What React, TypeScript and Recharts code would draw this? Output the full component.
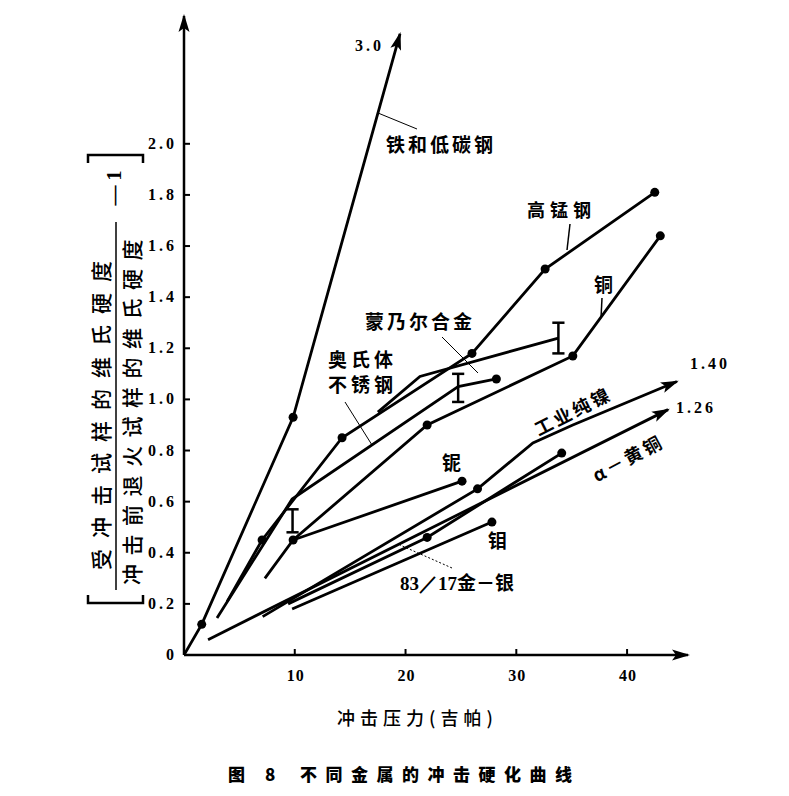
import React from 'react'
import { LineChart, Line, XAxis, YAxis, ReferenceLine, ReferenceDot } from 'recharts'

type Pt = { x: number; y: number }

// 冲击压力(吉帕) -> 硬化比
const TIE_DI_TAN_GANG: Pt[] = [{ x: 0, y: 0 }, { x: 1.6, y: 0.12 }, { x: 9.85, y: 0.93 }, { x: 19.5, y: 2.43 }]
const GAO_MENG_GANG: Pt[] = [{ x: 3.9, y: 0.21 }, { x: 7.05, y: 0.45 }, { x: 14.27, y: 0.85 }, { x: 26, y: 1.18 }, { x: 32.6, y: 1.51 }, { x: 42.5, y: 1.81 }]
const TONG: Pt[] = [{ x: 7.3, y: 0.3 }, { x: 9.85, y: 0.45 }, { x: 21.95, y: 0.9 }, { x: 35.1, y: 1.17 }, { x: 43, y: 1.64 }]
const MENG_NAI_ER: Pt[] = [{ x: 17.5, y: 0.95 }, { x: 21.3, y: 1.09 }, { x: 33.8, y: 1.24 }]
const AO_SHI_TI: Pt[] = [{ x: 2.98, y: 0.145 }, { x: 9.76, y: 0.61 }, { x: 24.75, y: 1.05 }, { x: 28.2, y: 1.08 }]
const NI_NIOBIUM: Pt[] = [{ x: 9.85, y: 0.45 }, { x: 25.1, y: 0.68 }]
const GONG_YE_NIE: Pt[] = [{ x: 7.1, y: 0.15 }, { x: 26.5, y: 0.65 }, { x: 31.5, y: 0.83 }, { x: 35.1, y: 0.9 }, { x: 44.5, y: 1.07 }]
const HUANG_TONG: Pt[] = [{ x: 2.17, y: 0.06 }, { x: 43.7, y: 0.96 }]
const JIN_YIN: Pt[] = [{ x: 9.4, y: 0.2 }, { x: 21.95, y: 0.46 }, { x: 34.1, y: 0.79 }]
const MU: Pt[] = [{ x: 9.76, y: 0.18 }, { x: 27.8, y: 0.52 }]

// 误差范围 [x, 下, 上]
const ERROR_BARS: [number, number, number][] = [[33.8, 1.18, 1.3], [24.75, 0.99, 1.1], [9.8, 0.48, 0.57]]

const X_TICKS = [10, 20, 30, 40]
const Y_TICKS = [0, 0.2, 0.4, 0.6, 0.8, 1.0, 1.2, 1.4, 1.6, 1.8, 2.0]

const SERIES = [
  { key: 'fe', data: TIE_DI_TAN_GANG, dots: [1, 2], arrow: true },
  { key: 'mn', data: GAO_MENG_GANG, dots: [1, 2, 3, 4, 5], arrow: false },
  { key: 'cu', data: TONG, dots: [1, 2, 3, 4], arrow: false },
  { key: 'monel', data: MENG_NAI_ER, dots: [], arrow: false },
  { key: 'ss', data: AO_SHI_TI, dots: [3], arrow: false },
  { key: 'nb', data: NI_NIOBIUM, dots: [1], arrow: false },
  { key: 'ni', data: GONG_YE_NIE, dots: [1], arrow: true },
  { key: 'brass', data: HUANG_TONG, dots: [], arrow: true },
  { key: 'auag', data: JIN_YIN, dots: [1, 2], arrow: false },
  { key: 'mo', data: MU, dots: [1], arrow: false },
]

const CJK = "'Noto Sans CJK SC', sans-serif"
const SERIF = "'Liberation Serif', serif"

function arrowHead(cx: number, cy: number, angle: number, key: string) {
  return (
    <polygon
      key={key}
      points="2,0 -16,-5.5 -12,0 -16,5.5"
      transform={`translate(${cx},${cy}) rotate(${angle})`}
      fill="#000"
    />
  )
}

function makeDot(dots: number[], arrow: boolean, n: number, k: string) {
  return (props: any) => {
    const { cx, cy, index, points } = props
    const key = `${k}-${index}`
    if (cx == null || cy == null) return <g key={key} />
    if (arrow && index === n - 1) {
      let angle = -60
      if (points && points[index - 1]) {
        const p = points[index - 1]
        angle = (Math.atan2(cy - p.y, cx - p.x) * 180) / Math.PI
      }
      return arrowHead(cx, cy, angle, key)
    }
    if (dots.includes(index)) return <circle key={key} cx={cx} cy={cy} r={4.5} fill="#000" />
    return <g key={key} />
  }
}

const YTick = ({ x, y, payload }: any) => (
  <g>
    <line x1={x} x2={x + 6} y1={y} y2={y} stroke="#000" strokeWidth={2} />
    <text x={x - 7} y={y + 5} textAnchor="end" fontFamily={SERIF} fontWeight={700} fontSize={16} letterSpacing={3} fill="#000">
      {payload.value === 0 ? '0' : payload.value.toFixed(1)}
    </text>
  </g>
)

const XTick = ({ x, y, payload }: any) => (
  <g>
    <line x1={x} x2={x} y1={y} y2={y - 6} stroke="#000" strokeWidth={2} />
    <text x={x + 1} y={y + 26} textAnchor="middle" fontFamily={SERIF} fontWeight={700} fontSize={16} letterSpacing={1} fill="#000">
      {payload.value}
    </text>
  </g>
)

const lbl = { fontFamily: CJK, fontWeight: 700, fill: '#000' } as const

export default function App() {
  return (
    <div style={{ position: 'absolute', left: 0, top: 0, width: 789, height: 796, background: '#fff' }}>
      <LineChart width={789} height={796} margin={{ top: 16, right: 101, bottom: 0, left: 0 }}>
        <XAxis
          type="number"
          dataKey="x"
          domain={[0, 45.5]}
          ticks={X_TICKS}
          height={141}
          tickSize={0}
          tickMargin={0}
          tick={<XTick />}
          axisLine={{ stroke: '#000', strokeWidth: 2.5 }}
          allowDataOverflow
        />
        <YAxis
          type="number"
          dataKey="y"
          domain={[0, 2.5]}
          ticks={Y_TICKS}
          width={184}
          tickSize={0}
          tickMargin={0}
          tick={<YTick />}
          axisLine={{ stroke: '#000', strokeWidth: 2.5 }}
          allowDataOverflow
        />
        {SERIES.map((s) => (
          <Line
            key={s.key}
            data={s.data}
            dataKey="y"
            type="linear"
            stroke="#000"
            strokeWidth={2.8}
            dot={makeDot(s.dots, s.arrow, s.data.length, s.key)}
            activeDot={false}
            isAnimationActive={false}
          />
        ))}
        {ERROR_BARS.map(([x, lo, hi]) => (
          <ReferenceLine key={`eb-${x}`} segment={[{ x, y: lo }, { x, y: hi }]} stroke="#000" strokeWidth={2.5} />
        ))}
        {ERROR_BARS.flatMap(([x, lo, hi]) =>
          [lo, hi].map((v) => (
            <ReferenceLine key={`cap-${x}-${v}`} segment={[{ x: x - 0.55, y: v }, { x: x + 0.55, y: v }]} stroke="#000" strokeWidth={2.5} />
          ))
        )}
        <ReferenceDot x={0} y={2.5} r={0} shape={(p: any) => arrowHead(p.cx, p.cy, -90, 'ya')} />
        <ReferenceDot x={45.5} y={0} r={0} shape={(p: any) => arrowHead(p.cx, p.cy, 0, 'xa')} />
      </LineChart>

      <svg width={789} height={796} style={{ position: 'absolute', left: 0, top: 0, pointerEvents: 'none' }}>
        {/* 纵轴标题 */}
        <g transform="translate(115,380) rotate(-90)" {...lbl}>
          <text x={-30} y={-6} textAnchor="middle" fontSize={21} letterSpacing={11} fontWeight={500}>受冲击试样的维氏硬度</text>
          <line x1={-210} x2={158} y1={1} y2={1} stroke="#000" strokeWidth={1.5} />
          <text x={-28} y={25} textAnchor="middle" fontSize={21} letterSpacing={8.5} fontWeight={500}>冲击前退火试样的维氏硬度</text>
          <text x={192} y={6} textAnchor="middle" fontSize={20} fontFamily={SERIF}>— 1</text>
          <path d="M-215,-27 L-223,-27 L-223,28 L-215,28" fill="none" stroke="#000" strokeWidth={2.5} />
          <path d="M217,-27 L225,-27 L225,28 L217,28" fill="none" stroke="#000" strokeWidth={2.5} />
        </g>

        <text x={355} y={51} fontFamily={SERIF} fontWeight={700} fontSize={16} letterSpacing={3}>3.0</text>
        <text x={386} y={152} fontSize={19} letterSpacing={3} {...lbl}>铁和低碳钢</text>
        <line x1={378} y1={113} x2={417} y2={129} stroke="#000" strokeWidth={1} />

        <text x={527} y={217} fontSize={18} letterSpacing={5} {...lbl}>高锰钢</text>
        <line x1={570} y1={224} x2={567} y2={250} stroke="#000" strokeWidth={1.5} />

        <text x={594} y={292} fontSize={19} {...lbl}>铜</text>
        <line x1={602} y1={298} x2={601} y2={318} stroke="#000" strokeWidth={1.5} />

        <text x={365} y={329} fontSize={19} letterSpacing={3} {...lbl}>蒙乃尔合金</text>
        <line x1={442} y1={337} x2={478} y2={373} stroke="#000" strokeWidth={1} />

        <text x={328} y={367} fontSize={19} letterSpacing={4} {...lbl}>奥氏体</text>
        <text x={328} y={392} fontSize={19} letterSpacing={4} {...lbl}>不锈钢</text>
        <line x1={345} y1={402} x2={372} y2={445} stroke="#000" strokeWidth={1} />

        <text x={442} y={470} fontSize={19} {...lbl}>铌</text>
        <text x={488} y={548} fontSize={19} {...lbl}>钼</text>

        <text x={400} y={590} fontSize={19} fill="#000">
          <tspan fontFamily={SERIF} fontWeight={700}>83／17</tspan>
          <tspan fontFamily={CJK} fontWeight={700}>金－银</tspan>
        </text>
        <line x1={452} y1={568} x2={400} y2={545} stroke="#000" strokeWidth={1} strokeDasharray="2 2" />

        <text x={573} y={418} textAnchor="middle" fontSize={18} letterSpacing={3} transform="rotate(-27 573 411)" {...lbl}>工业纯镍</text>
        <text x={628} y={465} textAnchor="middle" fontSize={18} letterSpacing={3} transform="rotate(-28 628 458)" {...lbl}>α－黄铜</text>

        <text x={690} y={369} fontFamily={SERIF} fontWeight={700} fontSize={16} letterSpacing={3}>1.40</text>
        <text x={676} y={413} fontFamily={SERIF} fontWeight={700} fontSize={16} letterSpacing={3}>1.26</text>

        <text x={337} y={725} fontSize={18} letterSpacing={5} fontFamily={CJK} fontWeight={500}>冲击压力(吉帕)</text>
        <text x={228} y={781} fontSize={17} letterSpacing={8} fontFamily={CJK} fontWeight={900}>图 8</text>
        <text x={300} y={781} fontSize={17} letterSpacing={8.5} fontFamily={CJK} fontWeight={900}>不同金属的冲击硬化曲线</text>
      </svg>
    </div>
  )
}
